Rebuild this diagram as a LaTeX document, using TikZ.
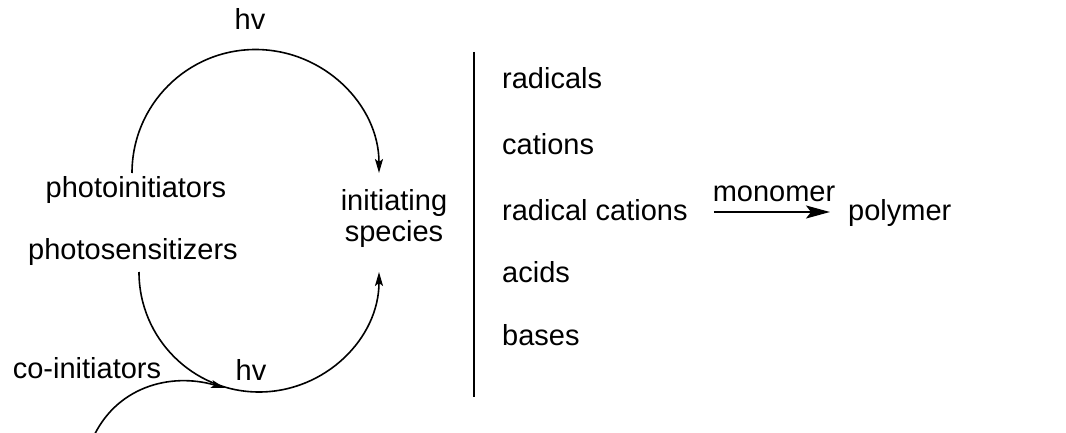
\documentclass[tikz,border=0pt]{standalone}
\usepackage{fontspec}
\setmainfont{Liberation Sans}
\usetikzlibrary{arrows.meta}
\tikzset{
  lbl/.style={inner sep=0pt, anchor=base, font=\fontsize{29}{35}\selectfont},
  lblw/.style={lbl, anchor=base west},
  conn/.style={line width=1.6pt},
  smallarrow/.style={conn, -{Stealth[length=14pt,width=8pt,inset=3pt]}},
  bigarrow/.style={conn, -{Stealth[length=24pt,width=13pt,inset=5pt]}}
}
\begin{document}
\begin{tikzpicture}[x=1pt,y=1pt]
\useasboundingbox (0,0) rectangle (1066,432);
\clip (0,0) rectangle (1066,432);
% labels
\node[lbl] (hv1) at (250,402) {hv};
\node[lbl] (pi) at (136,235) {photoinitiators};
\node[lbl] (is1) at (394,222) {initiating};
\node[lbl] (is2) at (394,191) {species};
\node[lbl] (ps) at (133,173) {photosensitizers};
\node[lbl] (ci) at (87,54) {co-initiators};
\node[lbl] (hv2) at (251,52) {hv};
\node[lblw] (r1) at (502,343) {radicals};
\node[lblw] (r2) at (502,277) {cations};
\node[lblw] (r3) at (502,212) {radical cations};
\node[lblw] (r4) at (502,150) {acids};
\node[lblw] (r5) at (502,87) {bases};
\node[lblw] (poly) at (848,212) {polymer};
\node[lbl] (mon) at (774,231) {monomer};
% separator
\coordinate (septop) at (474,380);
\coordinate (sepbot) at (474,35);
\draw[conn] (septop) -- (sepbot);
% top arc: photoinitiators -> initiating species
\draw[smallarrow] ([xshift=-4pt,yshift=24pt]pi.base) arc[start angle=180, end angle=0, radius=123.5];
% bottom arc: photosensitizers -> initiating species
\draw[smallarrow] ([xshift=6pt,yshift=-13pt]ps.base) arc[start angle=180, end angle=360, radius=120];
% co-initiator arc
\coordinate (cistart) at (92,-8);
\coordinate (citip) at (225,44);
\draw[smallarrow] (cistart) .. controls (115,45) and (170,60) .. (citip);
% monomer arrow
\draw[bigarrow] ([xshift=26pt,yshift=8pt]r3.base east) -- ([xshift=-18pt,yshift=8pt]poly.base west);
\end{tikzpicture}
\end{document}
